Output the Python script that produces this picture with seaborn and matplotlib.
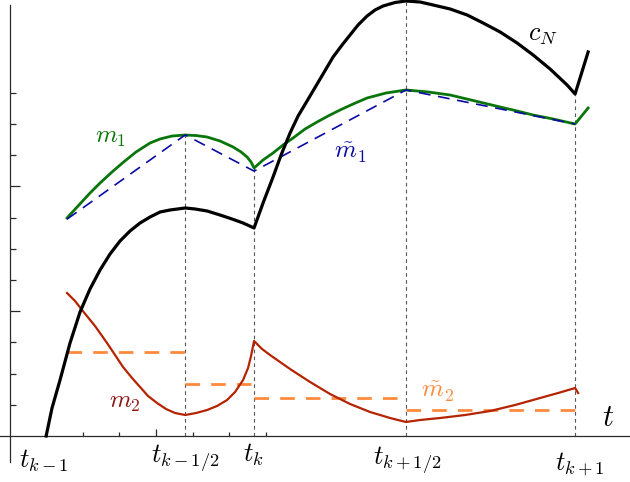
import numpy as np
import pandas as pd
import matplotlib
matplotlib.use("Agg")
import matplotlib.pyplot as plt
import seaborn as sns

# ---------------- data ----------------
node_t = [1.0, 4.80, 6.68, 10.83, 15.45]
node_labels = [r"$t_{k-1}$", r"$t_{k-1/2}$", r"$t_k$", r"$t_{k+1/2}$", r"$t_{k+1}$"]

cN_t = [1.0, 1.161, 1.380, 1.653, 1.926, 2.199, 2.473, 2.746, 3.019, 3.292, 3.566,
        3.839, 4.112, 4.385, 4.80, 5.068, 5.396, 5.751, 6.079, 6.380, 6.68,
        6.926, 7.199, 7.418, 7.664, 7.883, 8.128, 8.484, 8.839, 9.085, 9.303, 9.522,
        9.768, 9.986, 10.205, 10.533, 10.83, 11.216, 11.571, 12.036, 12.500, 12.937,
        13.402, 13.866, 14.303, 14.767, 15.232, 15.45, 15.806]
cN_v = [0.0, 0.897, 1.795, 2.981, 3.974, 4.712, 5.321, 5.833, 6.250, 6.571, 6.827,
        7.019, 7.179, 7.244, 7.308, 7.276, 7.212, 7.083, 6.955, 6.827, 6.667,
        7.468, 8.301, 9.006, 9.712, 10.256, 10.737, 11.442, 12.147, 12.532, 12.853, 13.173,
        13.462, 13.654, 13.782, 13.894, 13.942, 13.910, 13.814, 13.686, 13.494, 13.237,
        12.949, 12.596, 12.212, 11.763, 11.250, 10.962, 12.308]

m1_t = [1.571, 1.872, 2.199, 2.473, 2.801, 3.101, 3.456, 3.839, 4.112, 4.440, 4.80,
        5.096, 5.396, 5.751, 6.107, 6.325, 6.489, 6.598, 6.68,
        6.926, 7.199, 7.473, 7.746, 8.074, 8.402, 8.702, 9.030, 9.385, 9.768, 10.287,
        10.83, 11.434, 12.036, 12.719, 13.402, 13.866, 14.303, 14.850, 15.45, 15.806]
m1_v = [6.987, 7.372, 7.788, 8.109, 8.462, 8.766, 9.103, 9.391, 9.519, 9.615, 9.647,
        9.630, 9.583, 9.455, 9.263, 9.103, 8.942, 8.782, 8.590,
        8.846, 9.071, 9.327, 9.551, 9.840, 10.064, 10.256, 10.449, 10.641, 10.833, 10.994,
        11.090, 11.026, 10.929, 10.737, 10.545, 10.417, 10.288, 10.160, 10.000, 10.513]

m1_tilde_t = [1.571, 4.80, 6.68, 10.83, 15.45]
m1_tilde_v = [6.95, 9.65, 8.49, 11.09, 10.0]

m2_t = [1.571, 1.790, 1.981, 2.336, 2.664, 2.883, 3.101, 3.347, 3.566, 3.784, 4.030,
        4.276, 4.522, 4.80, 5.096, 5.396, 5.669, 5.943, 6.161, 6.380, 6.516, 6.598, 6.68,
        6.899, 7.117, 7.664, 8.210, 8.757, 9.303, 9.850, 10.396, 10.83, 11.216, 11.762,
        12.445, 13.128, 13.811, 14.494, 14.986, 15.45, 15.533]
m2_v = [4.583, 4.327, 4.038, 3.526, 2.981, 2.596, 2.212, 1.859, 1.571, 1.282, 1.058,
        0.865, 0.737, 0.673, 0.737, 0.833, 0.962, 1.154, 1.410, 1.795, 2.179, 2.564, 3.045,
        2.788, 2.596, 2.147, 1.731, 1.346, 1.026, 0.769, 0.577, 0.449, 0.513, 0.577,
        0.673, 0.801, 0.994, 1.218, 1.378, 1.538, 1.378]

m2_tilde_start = [1.571, 4.80, 6.68, 10.83]
m2_tilde_end = [4.80, 6.68, 10.83, 15.45]
m2_tilde_v = [2.69, 1.67, 1.22, 0.83]

# ---------------- styling ----------------
plt.rcParams["mathtext.fontset"] = "cm"
plt.rcParams["lines.scale_dashes"] = False
plt.rcParams["lines.solid_joinstyle"] = "round"

GREEN = "#0a750a"
BLUE = "#0a0aa5"
RED = "#b42400"
RED_LABEL = "#8e1414"
ORANGE = "#ff8a3d"
AXCOL = "#2a2a2a"

fig = plt.figure(figsize=(6.30, 4.82), dpi=100)
ax = fig.add_axes([0, 0, 1, 1])
ax.set_xlim(-0.26, 16.95)
ax.set_ylim(-1.474, 13.974)

# vertical dotted guide lines at the nodes (from the highest curve down to the axis)
tops = [max(np.interp(t, cN_t, cN_v), np.interp(t, m1_t, m1_v)) for t in node_t[1:]]
ax.vlines(node_t[1:], 0, tops, colors="#555555", linewidth=0.8,
          linestyles=[(0, (2.6, 2.4))], zorder=1)

# m2 tilde : piecewise constant, dashed
seg_rows = []
for i, (a, b, v) in enumerate(zip(m2_tilde_start, m2_tilde_end, m2_tilde_v)):
    seg_rows += [dict(t=a, v=v, seg=i), dict(t=b, v=v, seg=i)]
seg_df = pd.DataFrame(seg_rows)
sns.lineplot(data=seg_df, x="t", y="v", units="seg", estimator=None, sort=False,
             color=ORANGE, linewidth=2.0, linestyle=(0, (10.5, 8.0)), ax=ax, zorder=2)

# m2
sns.lineplot(x=m2_t, y=m2_v, estimator=None, sort=False, color=RED,
             linewidth=1.6, ax=ax, zorder=3)
# m1
sns.lineplot(x=m1_t, y=m1_v, estimator=None, sort=False, color=GREEN,
             linewidth=2.0, ax=ax, zorder=3)
# m1 tilde
sns.lineplot(x=m1_tilde_t, y=m1_tilde_v, estimator=None, sort=False, color=BLUE,
             linewidth=1.2, linestyle=(0, (8.5, 5.5)), ax=ax, zorder=4)
# c_N
sns.lineplot(x=cN_t, y=cN_v, estimator=None, sort=False, color="black",
             linewidth=2.3, ax=ax, zorder=5)

# axes lines through the origin
for s in ["top", "right"]:
    ax.spines[s].set_visible(False)
ax.spines["left"].set_position(("data", 0))
ax.spines["bottom"].set_position(("data", 0))
ax.spines["left"].set_bounds(-0.83, 13.81)
for s in ["left", "bottom"]:
    ax.spines[s].set_color(AXCOL)
    ax.spines[s].set_linewidth(0.9)
ax.set_xlabel("")
ax.set_ylabel("")

ax.set_xticks([4])
ax.set_xticks([1, 2, 3, 5, 6, 7], minor=True)
ax.set_yticks([4, 8])
ax.set_yticks([1, 2, 3, 5, 6, 7, 9, 10, 11], minor=True)
ax.tick_params(which="both", direction="in", color=AXCOL, width=0.9,
               labelleft=False, labelbottom=False)
ax.tick_params(axis="y", which="major", length=7.2)
ax.tick_params(axis="y", which="minor", length=4.3)
ax.tick_params(axis="x", which="major", length=5.0)
ax.tick_params(axis="x", which="minor", length=3.0)

# node labels under the axis
label_y = [-1.02, -0.86, -0.83, -0.90, -1.09]
label_dx = [-0.07, 0.0, -0.03, 0.04, 0.13]
for t, lab, yy, dx in zip(node_t, node_labels, label_y, label_dx):
    ax.text(t + dx, yy, lab, ha="center", va="baseline", fontsize=19, color="black")

# curve labels
ax.text(2.75, 9.58, r"$m_1$", color=GREEN, fontsize=18, ha="center", va="center")
ax.text(9.30, 9.07, r"$\tilde{m}_1$", color=BLUE, fontsize=18, ha="center", va="center")
ax.text(14.58, 12.88, r"$c_N$", color="black", fontsize=19, ha="center", va="center")
ax.text(3.16, 1.09, r"$m_2$", color=RED_LABEL, fontsize=18, ha="center", va="center")
ax.text(11.68, 1.41, r"$\tilde{m}_2$", color=ORANGE, fontsize=18, ha="center", va="center")
ax.text(16.35, 0.58, r"$t$", color="black", fontsize=22, ha="center", va="center")

fig.savefig("out.png", dpi=100)
